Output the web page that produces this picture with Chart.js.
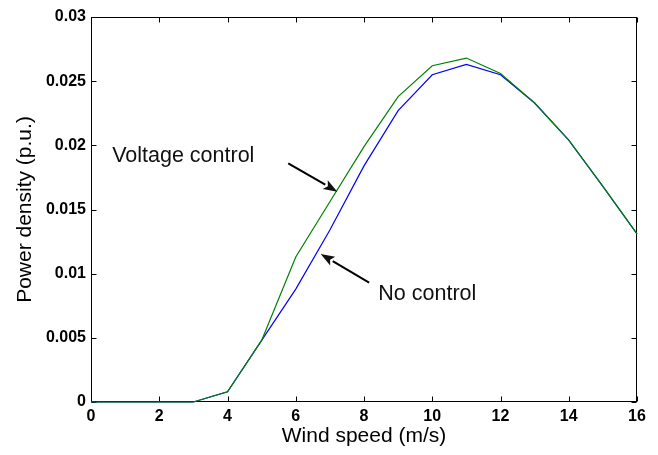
<!DOCTYPE html>
<html>
<head>
<meta charset="utf-8">
<script src="https://cdn.jsdelivr.net/npm/chart.js@4"></script>
<style>
  html, body { margin: 0; padding: 0; background: #fff; }
</style>
</head>
<body>
<canvas id="powerChart" width="658" height="455"></canvas>
<script>
// wind speed (m/s) and power density (p.u.)
const windSpeed = [0, 1, 2, 3, 4, 5, 6, 7, 8, 9, 10, 11, 12, 13, 14, 15, 16];
const voltageControl = [0, 0, 0, 0, 0.0008, 0.0048, 0.0113, 0.0156, 0.0199, 0.0238, 0.0262, 0.0268, 0.0256, 0.0233, 0.0204, 0.0168, 0.0131];
const noControl = [0, 0, 0, 0, 0.0008, 0.0048, 0.0088, 0.0134, 0.0184, 0.0227, 0.0255, 0.0263, 0.0255, 0.0233, 0.0204, 0.0168, 0.0131];

const xTicks = [0, 2, 4, 6, 8, 10, 12, 14, 16];
const yTicks = [0, 0.005, 0.01, 0.015, 0.02, 0.025, 0.03];
const yTickLabels = ["0", "0.005", "0.01", "0.015", "0.02", "0.025", "0.03"];

// text labels with arrows, in data coordinates
const notes = [
  { text: "Voltage control", x: 0.62, y: 0.01872, from: [5.78, 0.0186], to: [7.22, 0.01639] },
  { text: "No control", x: 8.42, y: 0.00791, from: [8.15, 0.0093], to: [6.73, 0.01153] },
];

const FONT = "'Liberation Sans', Arial, Helvetica, sans-serif";
Chart.defaults.font.family = FONT;
Chart.defaults.color = "#000";

function toPoints(ys) {
  return windSpeed.map((x, i) => ({ x, y: ys[i] }));
}

// box around the plot with inward ticks, like the original figure
const framePlugin = {
  id: "frame",
  beforeDatasetsDraw(chart) {
    const { ctx, chartArea: a, scales } = chart;
    const L = Math.round(a.left) + 0.5;
    const R = Math.round(a.right) - 0.5;
    const T = Math.round(a.top) + 0.5;
    const B = Math.round(a.bottom) - 0.5;
    const len = 5;
    ctx.save();
    ctx.strokeStyle = "#000";
    ctx.lineWidth = 1;
    ctx.strokeRect(L, T, R - L, B - T);
    ctx.beginPath();
    xTicks.forEach((v) => {
      const px = Math.round(scales.x.getPixelForValue(v)) + 0.5;
      ctx.moveTo(px, B);
      ctx.lineTo(px, B - len);
      ctx.moveTo(px, T);
      ctx.lineTo(px, T + len);
    });
    yTicks.forEach((v) => {
      const py = Math.round(scales.y.getPixelForValue(v)) + 0.5;
      ctx.moveTo(L, py);
      ctx.lineTo(L + len, py);
      ctx.moveTo(R, py);
      ctx.lineTo(R - len, py);
    });
    ctx.stroke();
    ctx.restore();
  },
  afterDatasetsDraw(chart) {
    const { ctx, scales } = chart;
    ctx.save();
    ctx.fillStyle = "#111";
    ctx.strokeStyle = "#000";
    ctx.font = "21.5px " + FONT;
    ctx.textBaseline = "alphabetic";
    notes.forEach((n) => {
      ctx.fillText(n.text, scales.x.getPixelForValue(n.x), scales.y.getPixelForValue(n.y));
      const x1 = scales.x.getPixelForValue(n.from[0]);
      const y1 = scales.y.getPixelForValue(n.from[1]);
      const x2 = scales.x.getPixelForValue(n.to[0]);
      const y2 = scales.y.getPixelForValue(n.to[1]);
      const ang = Math.atan2(y2 - y1, x2 - x1);
      const head = 14;
      const half = 5;
      const bx = x2 - head * Math.cos(ang);
      const by = y2 - head * Math.sin(ang);
      ctx.lineWidth = 2;
      ctx.beginPath();
      ctx.moveTo(x1, y1);
      ctx.lineTo(bx, by);
      ctx.stroke();
      ctx.beginPath();
      ctx.moveTo(x2, y2);
      ctx.lineTo(bx + half * Math.sin(ang), by - half * Math.cos(ang));
      ctx.lineTo(bx + 3 * Math.cos(ang), by + 3 * Math.sin(ang));
      ctx.lineTo(bx - half * Math.sin(ang), by + half * Math.cos(ang));
      ctx.closePath();
      ctx.fill();
    });
    ctx.restore();
  },
};

new Chart(document.getElementById("powerChart"), {
  type: "line",
  data: {
    datasets: [
      {
        label: "Voltage control",
        data: toPoints(voltageControl),
        borderColor: "#008000",
        borderWidth: 1.2,
        pointRadius: 0,
        tension: 0,
        clip: false,
        order: 0,
      },
      {
        label: "No control",
        data: toPoints(noControl),
        borderColor: "#0000ff",
        borderWidth: 1.2,
        pointRadius: 0,
        tension: 0,
        clip: false,
        order: 1,
      },
    ],
  },
  options: {
    responsive: false,
    animation: false,
    devicePixelRatio: 1,
    layout: { padding: { left: 0, right: 21, top: 17, bottom: 0 } },
    plugins: {
      legend: { display: false },
      tooltip: { enabled: false },
    },
    scales: {
      x: {
        type: "linear",
        min: 0,
        max: 16,
        afterBuildTicks: (scale) => {
          scale.ticks = xTicks.map((v) => ({ value: v }));
        },
        afterFit: (scale) => {
          scale.height = 53;
        },
        grid: { display: false, drawTicks: false },
        border: { display: false },
        ticks: {
          padding: 5,
          maxRotation: 0,
          autoSkip: false,
          font: { size: 16, weight: "bold" },
          callback: (v) => String(v),
        },
        title: {
          display: true,
          text: "Wind speed (m/s)",
          font: { size: 21 },
          padding: { top: 0, bottom: 6 },
        },
      },
      y: {
        type: "linear",
        min: 0,
        max: 0.03,
        afterBuildTicks: (scale) => {
          scale.ticks = yTicks.map((v) => ({ value: v }));
        },
        afterFit: (scale) => {
          scale.width = 91;
        },
        grid: { display: false, drawTicks: false },
        border: { display: false },
        ticks: {
          padding: 5,
          autoSkip: false,
          font: { size: 16, weight: "bold" },
          callback: (v, i) => yTickLabels[i],
        },
        title: {
          display: true,
          text: "Power density (p.u.)",
          font: { size: 21 },
          padding: { top: 13, bottom: 0 },
        },
      },
    },
  },
  plugins: [framePlugin],
});
</script>
</body>
</html>
